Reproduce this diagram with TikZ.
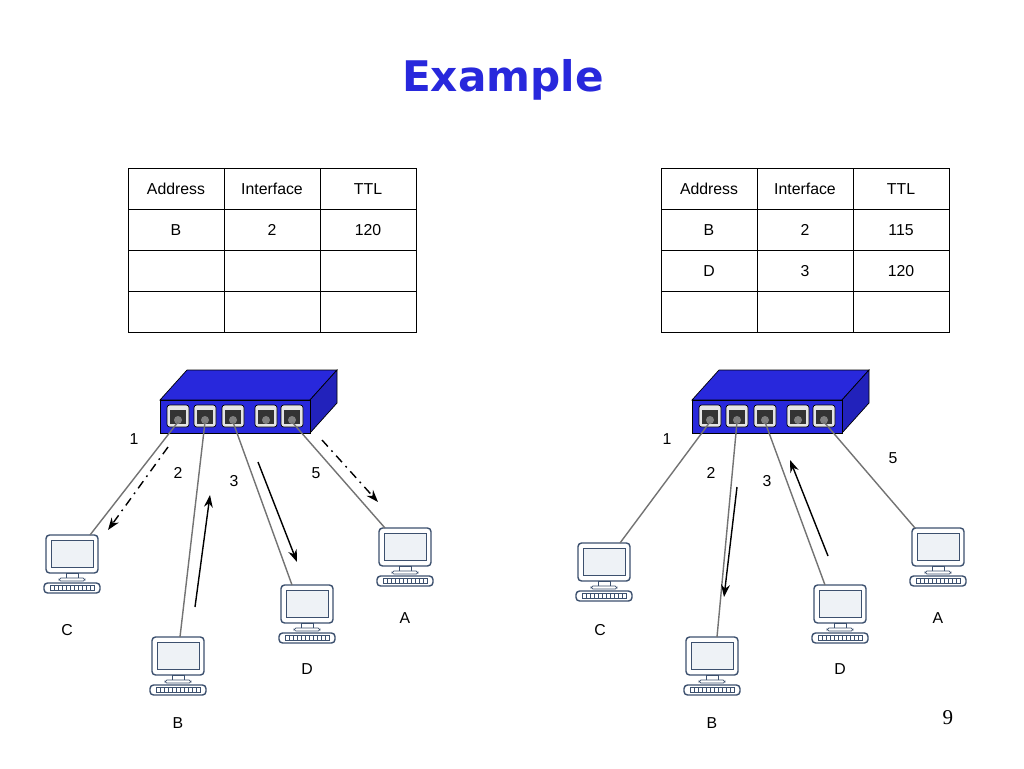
\documentclass[tikz,border=0pt]{standalone}
\usepackage{fontspec}
\setmainfont{Liberation Sans}
\newfontfamily\titlefont{DejaVu Sans}
\newfontfamily\pagefont{Liberation Serif}
\usetikzlibrary{arrows.meta}
\definecolor{swblue}{RGB}{40,40,220}
\definecolor{scrfill}{RGB}{238,242,246}
\definecolor{pcedge}{RGB}{60,80,110}
\tikzset{cable/.style={thick,gray!90!black},
  flow/.style={thick,-{Stealth[length=7pt,width=5pt]}},
  flood/.style={flow,dash pattern=on 5pt off 3pt on 1pt off 3pt},
  lbl/.style={font=\small,text height=1.6ex,text depth=0.3ex,inner sep=0pt},
  pc/.pic={
    \draw[pcedge,thick,fill=white,rounded corners=2pt] (-26,-20) rectangle (26,18);
    \draw[pcedge,fill=scrfill] (-21,-15) rectangle (21,12);
    \draw[pcedge,fill=white] (-6,18) rectangle (6,23);
    \draw[pcedge,fill=white,rounded corners=1pt] (-13,23) rectangle (13,26);
    \draw[pcedge,thick,fill=white,rounded corners=2pt] (-28,28) rectangle (28,38);
    \draw[pcedge,fill=white] (-22,30.5) rectangle (22,35.5);
    \foreach \k in {-18,-14,...,18} \draw[pcedge,thin] (\k,30.5) -- (\k,35.5);}}
\newcommand{\switchbox}[2]{% x offset, prefix
  \begin{scope}[xshift=#1*0.02cm]
    \draw[fill=swblue] (160,400) -- (187,370) -- (337,370) -- (310,400) -- cycle;
    \draw[fill=swblue!85!black] (310,400) -- (337,370) -- (337,403) -- (310,433) -- cycle;
    \draw[fill=swblue] (160,400) rectangle (310,433);
    \foreach \px/\n in {178/1,205/2,233/3,266/4,292/5}{
      \draw[fill=gray!20,rounded corners=1.5pt] (\px-11,405) rectangle (\px+11,427);
      \fill[black!80] (\px-8,410) rectangle (\px+8,424);
      \fill[gray] (\px,420) circle (4);
      \coordinate (#2p\n) at (\px,422);}
  \end{scope}}
\newcommand{\addrtable}[5]{% x left, rows
  \begin{scope}[xshift=#1*0.02cm]
    \foreach \r in {0,...,3} \foreach \c in {0,1,2}
      \draw (128+\c*96,168+\r*41) rectangle (224+\c*96,209+\r*41);
    \foreach \t [count=\c from 0] in {Address,Interface,TTL}
      \node[lbl] at (176+\c*96,188.5) {\t};
    \foreach \a/\b/\d [count=\r] in {#2,#3,#4}
      \foreach \t [count=\c from 0] in {\a,\b,\d}
        \node[lbl] at (176+\c*96,188.5+\r*41) {\t};
  \end{scope}}
\begin{document}
\begin{tikzpicture}[x=0.02cm,y=-0.02cm]
  \useasboundingbox (0,0) rectangle (1024,768);
  \node[font=\titlefont\bfseries\fontsize{24}{28}\selectfont,text=swblue] (title) at (503,80) {Example};
  % tables
  \addrtable{0}{B/2/120}{/~/}{/~/}{}
  \addrtable{533}{B/2/115}{D/3/120}{/~/}{}
  % left switch
  \switchbox{0}{L}
  \pic (LC) at (72,555) {pc}; \coordinate (LCt) at (90,535);
  \pic (LB) at (178,657) {pc}; \coordinate (LBt) at (180,637);
  \pic (LD) at (307,605) {pc}; \coordinate (LDt) at (292,585);
  \pic (LA) at (405,548) {pc}; \coordinate (LAt) at (385,528);
  \draw[cable] (Lp1) -- (LCt); \draw[cable] (Lp2) -- (LBt);
  \draw[cable] (Lp3) -- (LDt); \draw[cable] (Lp5) -- (LAt);
  \node[lbl] (LnC) at (67,629) {C}; \node[lbl] (LnB) at (178,722) {B};
  \node[lbl] (LnD) at (307,668) {D}; \node[lbl] (LnA) at (405,617) {A};
  \node[lbl] (Li1) at (134,438) {1}; \node[lbl] (Li2) at (178,472) {2};
  \node[lbl] (Li3) at (234,480) {3}; \node[lbl] (Li5) at (316,472) {5};
  \coordinate (La1) at (168,447); \coordinate (La2) at (108,530);
  \coordinate (Lb1) at (195,607); \coordinate (Lb2) at (210,495);
  \coordinate (Lc1) at (258,462); \coordinate (Lc2) at (297,562);
  \coordinate (Ld1) at (322,440); \coordinate (Ld2) at (378,502);
  \draw[flood] (La1) -- (La2); \draw[flow] (Lb1) -- (Lb2);
  \draw[flow] (Lc1) -- (Lc2); \draw[flood] (Ld1) -- (Ld2);
  % right switch
  \switchbox{532}{R}
  \pic (RC) at (604,563) {pc}; \coordinate (RCt) at (620,543);
  \pic (RB) at (712,657) {pc}; \coordinate (RBt) at (717,637);
  \pic (RD) at (840,605) {pc}; \coordinate (RDt) at (825,585);
  \pic (RA) at (938,548) {pc}; \coordinate (RAt) at (915,528);
  \draw[cable] (Rp1) -- (RCt); \draw[cable] (Rp2) -- (RBt);
  \draw[cable] (Rp3) -- (RDt); \draw[cable] (Rp5) -- (RAt);
  \node[lbl] (RnC) at (600,629) {C}; \node[lbl] (RnB) at (712,722) {B};
  \node[lbl] (RnD) at (840,668) {D}; \node[lbl] (RnA) at (938,617) {A};
  \node[lbl] (Ri1) at (667,438) {1}; \node[lbl] (Ri2) at (711,472) {2};
  \node[lbl] (Ri3) at (767,480) {3}; \node[lbl] (Ri5) at (893,457) {5};
  \coordinate (Ra1) at (737,487); \coordinate (Ra2) at (724,597);
  \coordinate (Rb1) at (828,556); \coordinate (Rb2) at (790,460);
  \draw[flow] (Ra1) -- (Ra2); \draw[flow] (Rb1) -- (Rb2);
  \node[font=\pagefont\large] (page) at (948,718) {9};
\end{tikzpicture}
\end{document}
